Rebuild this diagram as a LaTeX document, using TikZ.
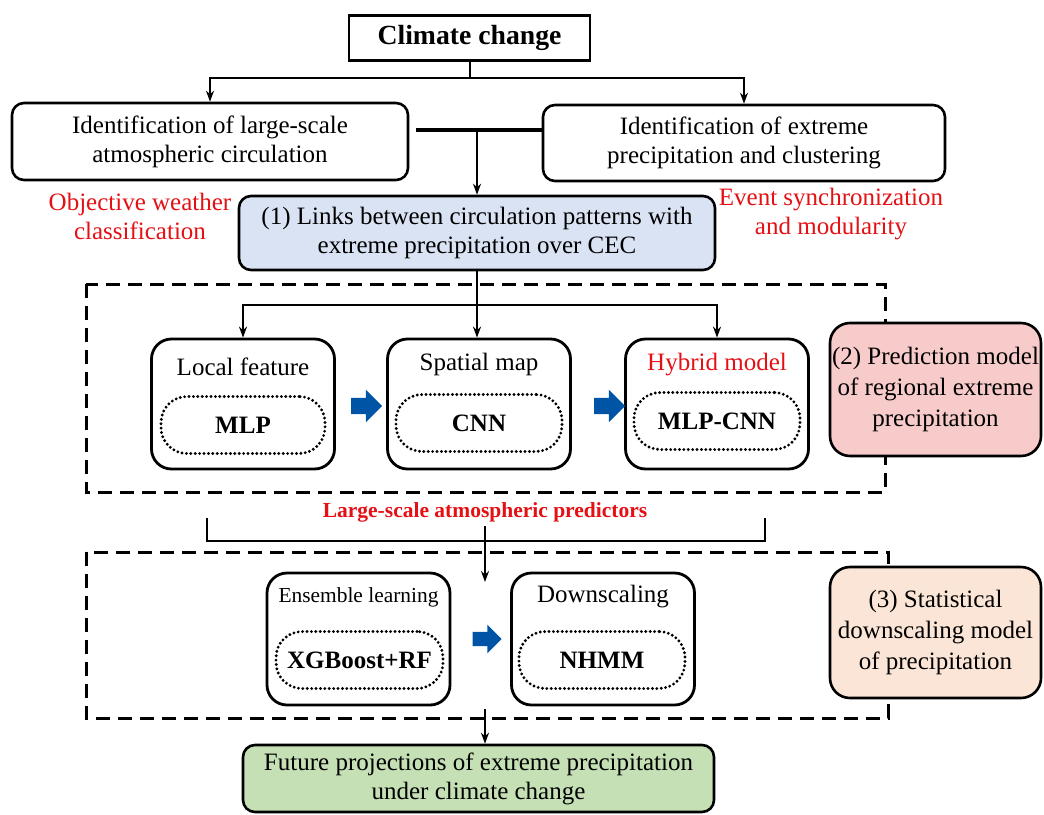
\documentclass[tikz,border=0pt]{standalone}
\usepackage{fontspec}
\setmainfont{Liberation Serif}
\usetikzlibrary{arrows.meta,shapes.arrows,calc}
\definecolor{myred}{RGB}{228,16,20}
\definecolor{arrowblue}{RGB}{0,84,166}
\definecolor{bluefill}{RGB}{218,227,243}
\definecolor{pinkfill}{RGB}{248,203,203}
\definecolor{orangefill}{RGB}{251,229,214}
\definecolor{greenfill}{RGB}{197,224,180}
\tikzset{
  outerbox/.style={draw=black,line width=2.6pt,rounded corners=12pt,align=center,inner sep=0pt},
  modelbox/.style={draw=black,line width=2.8pt,rounded corners=20pt,minimum width=183pt,minimum height=130pt,inner sep=0pt},
  dotbox/.style={draw=black,line width=3.2pt,dash pattern=on 0pt off 4.4pt,line cap=round,rounded corners=26pt,minimum height=57pt,inner sep=0pt,font=\fontsize{25}{29}\selectfont\bfseries},
  sidebox/.style={draw=black,line width=2.6pt,rounded corners=20pt,align=center,minimum width=211pt,inner sep=0pt,font=\fontsize{25}{31}\selectfont},
  dashframe/.style={draw=black,line width=3pt,dash pattern=on 14pt off 8pt},
  conn/.style={draw=black,line width=2pt},
  arr/.style={conn,-{Stealth[length=11pt,width=8pt]}},
  bluearrow/.style={shape=single arrow,fill=arrowblue,draw=none,inner xsep=0pt,inner ysep=8pt,minimum height=31pt,single arrow head extend=8pt,single arrow head indent=0pt},
  redlabel/.style={text=myred,align=center},
  titletext/.style={inner sep=0pt}
}
\begin{document}
\begin{tikzpicture}[x=1pt,y=-1pt,font=\fontsize{25}{29}\selectfont]
\useasboundingbox (0,0) rectangle (1044,814);

% frames
\draw[dashframe] (86,284) rectangle (885,492);
\draw[dashframe] (86,552) rectangle (888,718);

% top
\node[draw=black,line width=2.4pt,minimum width=241pt,minimum height=45pt,inner sep=0pt,font=\fontsize{27.7}{32}\selectfont\bfseries] (cc) at (469.5,38) {Climate change};
\node[outerbox,minimum width=396pt,minimum height=77pt] (idl) at (210,141.5) {Identification of large-scale\\atmospheric circulation};
\node[outerbox,minimum width=402pt,minimum height=76pt] (idr) at (744,143) {Identification of extreme\\precipitation and clustering};
\node[outerbox,fill=bluefill,minimum width=476pt,minimum height=74pt] (link) at (477,233) {(1) Links between circulation patterns with\\extreme precipitation over CEC};
\node[redlabel] (obj) at (140,216) {Objective weather\\classification};
\node[redlabel] (evt) at (831,214) {Event synchronization\\and modularity};

\coordinate (br1) at (469.5,78);
\draw[conn] (cc.south) -- (br1);
\draw[arr] (br1) -| (idl.north);
\draw[arr] (br1) -| (idr.north);
\coordinate (jn) at (477,130);
\draw[black,line width=3.5pt] ([xshift=7pt]idl.east |- jn) -- (idr.west |- jn);
\draw[arr] (jn) -- (link.north);

% prediction models
\node[modelbox] (lf) at (243,404) {};
\node[modelbox] (sm) at (479,404) {};
\node[modelbox] (hy) at (717,404) {};
\node[titletext] (lft) at (243,367) {Local feature};
\node[titletext] (smt) at (479,364) {Spatial map};
\node[titletext,text=myred] (hyt) at (717,365) {Hybrid model};
\node[dotbox,minimum width=164pt] (mlp) at (243,425) {MLP};
\node[dotbox,minimum width=166pt] (cnn) at (479,423) {CNN};
\node[dotbox,minimum width=166pt] (mc) at (717,421) {MLP-CNN};
\node[bluearrow] (ba1) at (362.5,406) {};
\node[bluearrow] (ba2) at (605.5,406) {};

\coordinate (br2) at (477,305);
\draw[arr] (link.south) -- (link.south |- sm.north);
\draw[arr] (br2) -| (lf.north);
\draw[arr] (br2) -| (hy.north);

\node[sidebox,fill=pinkfill,minimum height=133pt] (pm) at (935.5,389.5) {(2) Prediction model\\of regional extreme\\precipitation};

% predictors
\node[text=myred,font=\fontsize{21.5}{26}\selectfont\bfseries,inner sep=0pt] (pred) at (485,512) {Large-scale atmospheric predictors};
\coordinate (bkl) at (207,518);
\coordinate (bkr) at (765,518);
\draw[black,line width=2.6pt] (bkl) -- (207,541) -- (765,541) -- (bkr);
\coordinate (c3) at (485,582);
\draw[arr] (485,526) -- (c3);

% downscaling
\node[modelbox,minimum height=132pt] (ens) at (358.5,639) {};
\node[modelbox,minimum height=132pt] (dws) at (603,639) {};
\node[titletext,font=\fontsize{21.4}{26}\selectfont] (enst) at (358.5,597) {Ensemble learning};
\node[titletext] (dwst) at (603,597) {Downscaling};
\node[dotbox,minimum width=167pt] (xgb) at (359.5,660) {XGBoost+RF};
\node[dotbox,minimum width=166pt] (nhmm) at (602,660) {NHMM};
\node[bluearrow,minimum height=29pt,inner ysep=7pt,single arrow head extend=7pt] (ba3) at (483.5,639) {};

\node[sidebox,fill=orangefill,minimum height=131pt] (sd) at (935.5,632.5) {(3) Statistical\\downscaling model\\of precipitation};

% future
\node[outerbox,fill=greenfill,minimum width=471pt,minimum height=67pt] (fut) at (478.5,778.5) {Future projections of extreme precipitation\\under climate change};
\coordinate (c4) at (485,709);
\draw[arr] (c4) -- (c4 |- fut.north);
\end{tikzpicture}
\end{document}
